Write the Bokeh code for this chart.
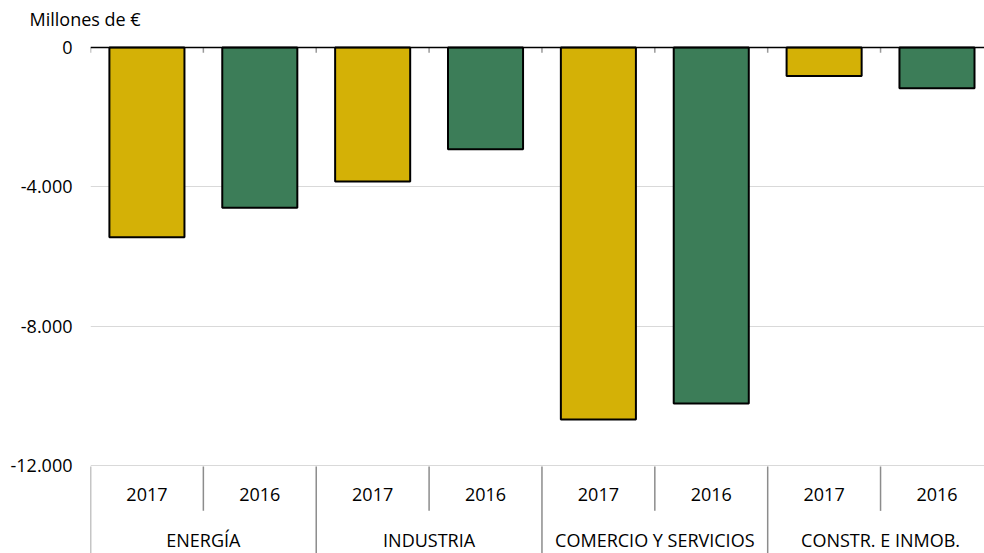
from bokeh.plotting import figure
from bokeh.models import Range1d, FixedTicker, Span, Title, ColumnDataSource
from bokeh.core.properties import value
from bokeh.embed import file_html
from bokeh.resources import INLINE

# ---- data ----
sectors = ["ENERGÍA", "INDUSTRIA", "COMERCIO Y SERVICIOS", "CONSTR. E INMOB."]
years = ["2017", "2016"]
values_2017 = [-5450, -3850, -10680, -820]
values_2016 = [-4600, -2920, -10220, -1170]
y_ticks = [0, -4000, -8000, -12000]
y_tick_labels = ["0", "-4.000", "-8.000", "-12.000"]
unit_label = "Millones de €"

year_colors = {"2017": "#D4B106", "2016": "#3C7D58"}
FONT = "Open Sans"
FS = "18px"

# ---- build table ----
xs, tops, fills, year_lbl = [], [], [], []
series = {"2017": values_2017, "2016": values_2016}
for i, s in enumerate(sectors):
    for j, y in enumerate(years):
        xs.append(i * len(years) + j + 0.5)
        tops.append(series[y][i])
        fills.append(year_colors[y])
        year_lbl.append(y)
n_slots = len(xs)
src = ColumnDataSource(dict(x=xs, top=tops, color=fills, year=year_lbl))

# ---- figure ----
p = figure(width=984, height=553, x_range=Range1d(0, 7.921), y_range=Range1d(-14530, 373),
           output_backend="svg", toolbar_location=None,
           min_border_left=90, min_border_right=0, min_border_top=34, min_border_bottom=0,
           x_axis_location=None)
p.extra_y_ranges = {"strip": Range1d(0, 5.966)}
p.outline_line_color = None
p.background_fill_color = "white"
p.border_fill_color = "white"

p.vbar(x="x", top="top", bottom=0, width=0.665, source=src,
       fill_color="color", line_color="black", line_width=2)

p.xgrid.visible = False
p.ygrid.ticker = FixedTicker(ticks=y_ticks)
p.ygrid.grid_line_color = "#D9D9D9"
p.ygrid.grid_line_width = 1

yax = p.yaxis[0]
yax.ticker = FixedTicker(ticks=y_ticks)
yax.major_label_overrides = {t: l for t, l in zip(y_ticks, y_tick_labels)}
yax.axis_line_color = None
yax.major_tick_line_color = None
yax.minor_tick_line_color = None
yax.major_tick_out = 0
yax.major_tick_in = 0
yax.major_label_standoff = 18
yax.major_label_text_font = FONT
yax.major_label_text_font_size = FS
yax.major_label_text_color = "black"

# boundary ticks on the zero line
bounds = list(range(n_slots))
p.segment(x0=bounds, y0=[0] * len(bounds), x1=bounds, y1=[-150] * len(bounds),
          line_color="#9a9a9a", line_width=1.5)

p.add_layout(Span(location=0, dimension="width", line_color="black", line_width=1.5))

title = Title(text=unit_label, align="left", offset=-61, standoff=7,
              text_font=FONT, text_font_size=FS, text_font_style="normal",
              text_color="black")
p.add_layout(title, "above")

# ---- category label strip (below the -12.000 line) ----
p.text(x=xs, y=[0.68] * n_slots, text=year_lbl, text_font=value(FONT),
       text_font_size=FS, text_align="center", text_baseline="middle",
       text_color="black", y_range_name="strip")
grp_x = [i * len(years) + len(years) / 2 for i in range(len(sectors))]
p.text(x=grp_x, y=[0.15] * len(sectors), text=sectors, text_font=value(FONT),
       text_font_size=FS, text_align="center", text_baseline="middle",
       text_color="black", y_range_name="strip")

sub_sep = [i * len(years) + 1 for i in range(len(sectors))]
p.segment(x0=sub_sep, y0=[1] * len(sub_sep), x1=sub_sep, y1=[0.49] * len(sub_sep),
          line_color="#8c8c8c", line_width=1.5, y_range_name="strip")
grp_sep = [i * len(years) for i in range(len(sectors))]
p.segment(x0=grp_sep, y0=[1] * len(grp_sep), x1=grp_sep, y1=[0] * len(grp_sep),
          line_color="#8c8c8c", line_width=1.5, y_range_name="strip")

open("out.html", "w").write(file_html(p, INLINE))
